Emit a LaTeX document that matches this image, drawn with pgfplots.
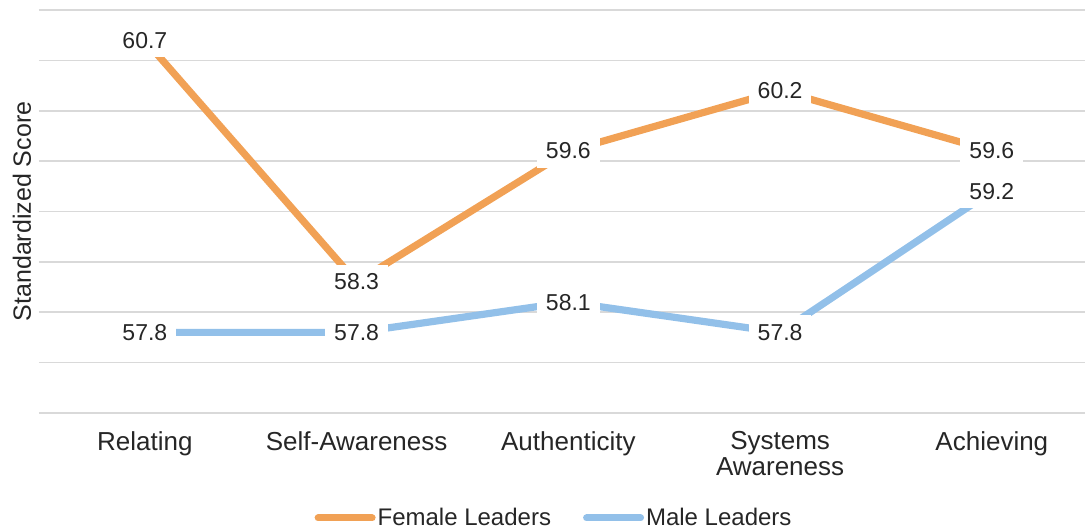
\documentclass[border=0pt]{standalone}
\usepackage{pgfplots}
\pgfplotsset{compat=1.18}
\usepackage{fontspec}
\setmainfont{Liberation Sans}
\definecolor{orng}{HTML}{F1A155}
\definecolor{blu}{HTML}{92C0E9}
\definecolor{gridc}{HTML}{D9D9D9}
\definecolor{txt}{HTML}{262626}
\begin{document}
\begin{tikzpicture}
\useasboundingbox (0,0) rectangle (542.5pt,264.5pt);
\begin{axis}[
  at={(19.5pt,58pt)}, anchor=south west,
  scale only axis, width=523pt, height=201.5pt,
  xmin=-0.5, xmax=4.44, ymin=57, ymax=61,
  ytick={57,57.5,...,61}, yticklabels={},
  xtick={0,1,2,3,4},
  xticklabels={Relating,Self-Awareness,Authenticity,{Systems\\Awareness},Achieving},
  xticklabel style={align=center, anchor=north, inner sep=0pt, yshift=-9pt,
    font=\fontsize{13}{12.8}\selectfont, text=txt},
  axis line style={draw=none},
  major tick length=0pt,
  ymajorgrids, major grid style={gridc, line width=0.75pt},
  ylabel={Standardized Score},
  ylabel style={at={(axis description cs:-0.0163,0.5)}, anchor=center,
    font=\fontsize{12.5}{12.5}\selectfont, text=txt},
  nodes near coords,
  nodes near coords style={anchor=center, fill=white, inner xsep=4.5pt, inner ysep=4.5pt,
    font=\fontsize{11.5}{11.5}\selectfont, text=txt,
    /pgf/number format/.cd, fixed, fixed zerofill, precision=1, assume math mode=true},
  legend columns=2,
  legend style={draw=none, fill=none, at={(0.4924,-0.2605)}, anchor=center,
    font=\fontsize{12}{12}\selectfont, text=txt, inner sep=0pt,
    nodes={inner sep=1pt},
    /tikz/every even column/.append style={column sep=15pt}},
  legend image code/.code={\draw[#1, line width=3.5pt, line cap=round] (0pt,0pt) -- (27pt,0pt);},
]
\addplot[orng, line width=3.6pt] coordinates {(0,60.7) (1,58.3) (2,59.6) (3,60.2) (4,59.6)};
\addlegendentry{Female Leaders}
\addplot[blu, line width=3.6pt] coordinates {(0,57.8) (1,57.8) (2,58.1) (3,57.8) (4,59.2)};
\addlegendentry{Male Leaders}
\end{axis}
\end{tikzpicture}
\end{document}
